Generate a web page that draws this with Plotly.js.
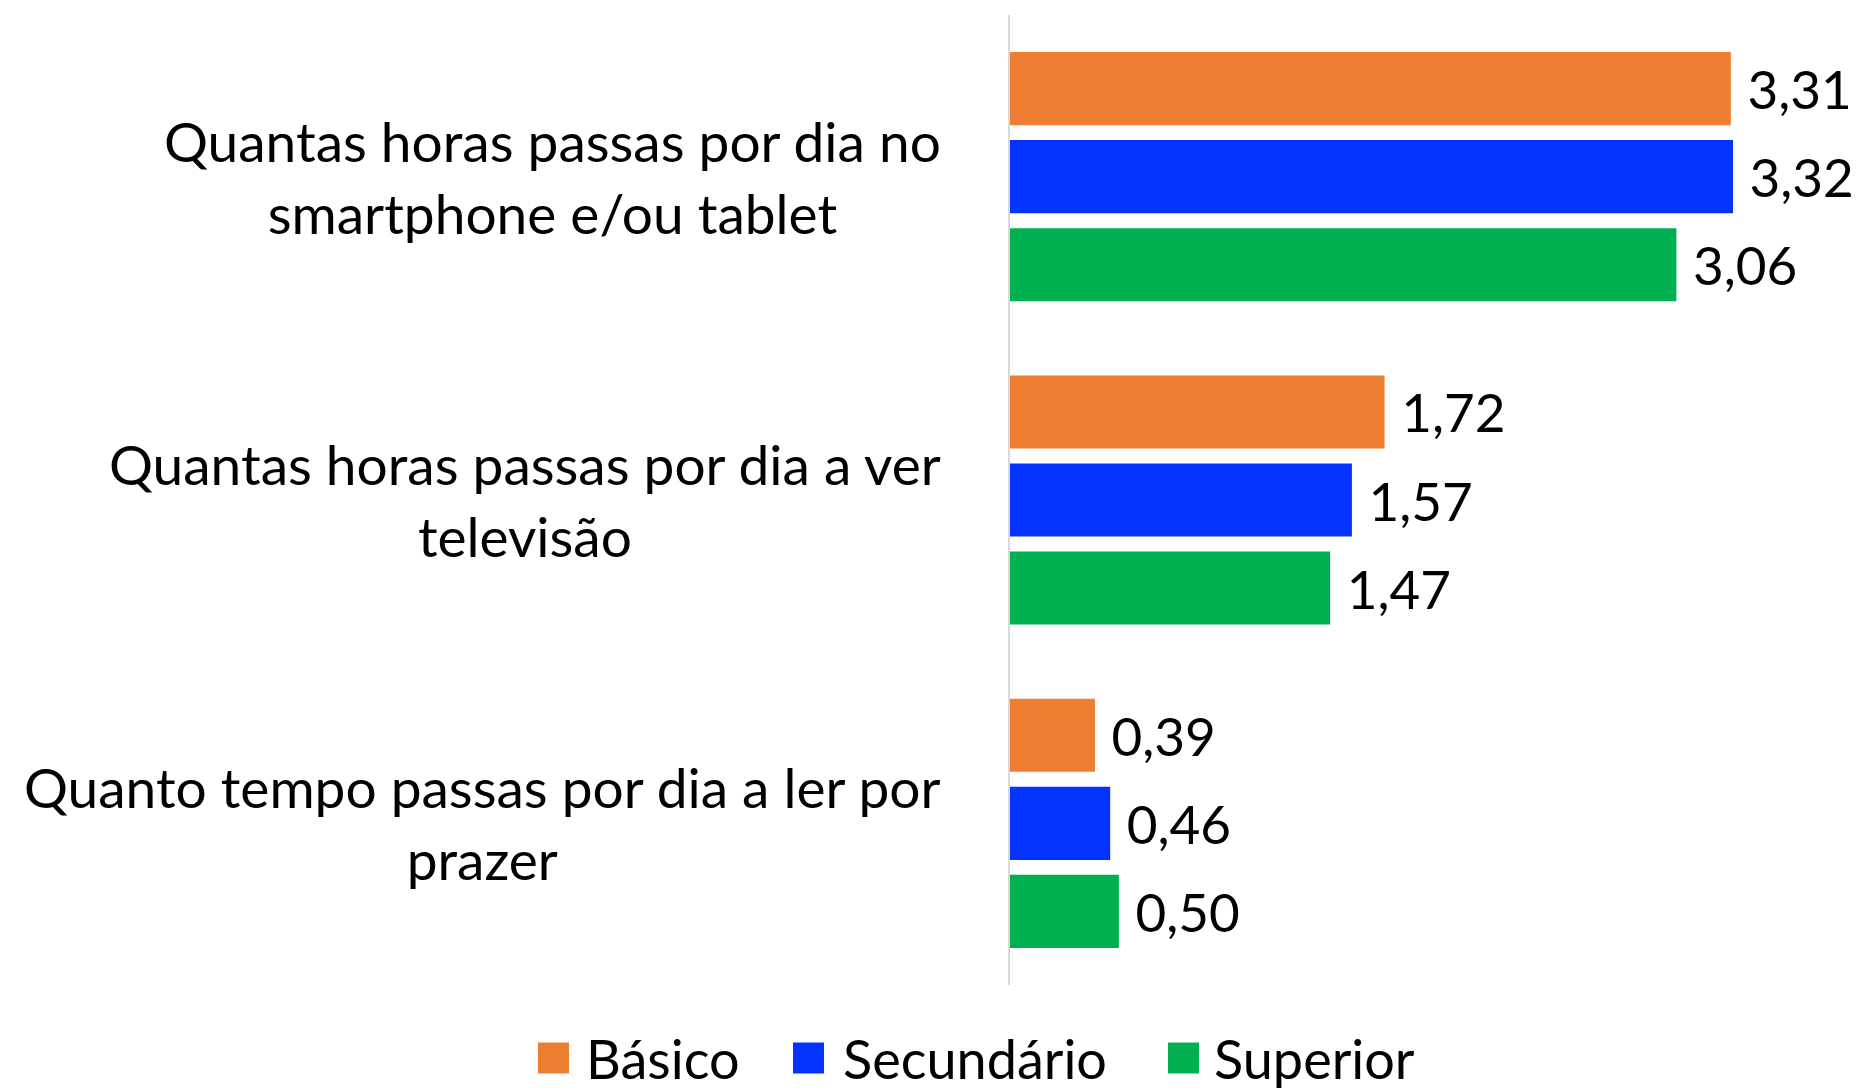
<!DOCTYPE html>
<html>
<head>
<meta charset="utf-8">
<script src="https://cdn.plot.ly/plotly-3.0.1.min.js"></script>
<style>html,body{margin:0;padding:0;background:#fff;}#chart{width:1865px;height:1091px;}</style>
</head>
<body>
<div id="chart"></div>
<script>
var categories = [
  "Quantas horas passas por dia no<br>smartphone e/ou tablet",
  "Quantas horas passas por dia a ver<br>televisão",
  "Quanto tempo passas por dia a ler por<br>prazer"
];
var seriesNames = ["Básico", "Secundário", "Superior"];
var basico = [3.31, 1.72, 0.39];
var secundario = [3.32, 1.57, 0.46];
var superior = [3.06, 1.47, 0.50];
var colors = ["#ED7D31", "#0433FF", "#00B050"];

var W = 1865, H = 1091;
var M = {l: 1010, r: 71, t: 15, b: 106};
var PW = W - M.l - M.r, PH = H - M.t - M.b;
function px2x(px){ return (px - M.l) / PW; }
function px2y(py){ return (H - M.b - py) / PH; }

var FONT = "Lato, 'Open Sans', sans-serif";
var values = [basico, secundario, superior];
var traces = values.map(function(v, i){
  return {
    type: "bar", orientation: "h",
    name: seriesNames[i],
    y: categories, x: v,
    marker: {color: colors[i]},
    texttemplate: "\u00a0%{x:.2f}",
    textposition: "outside",
    constraintext: "none",
    cliponaxis: false,
    textfont: {family: FONT, size: 53, color: "#000"},
    showlegend: false,
    hoverinfo: "x"
  };
});

var annotations = categories.map(function(c){
  return {
    xref: "paper", yref: "y", x: px2x(943), y: c,
    xanchor: "right", yanchor: "middle", align: "center",
    text: c, showarrow: false,
    font: {family: FONT, size: 55, color: "#000"}
  };
});

var shapes = [];
var legSq = [538, 793, 1168];
var legTx = [584, 841, 1212];
var legY = 1058, sq = 31;
seriesNames.forEach(function(n, i){
  shapes.push({type: "rect", xref: "paper", yref: "paper",
    x0: px2x(legSq[i]), x1: px2x(legSq[i] + sq),
    y0: px2y(legY + sq/2), y1: px2y(legY - sq/2),
    fillcolor: colors[i], line: {width: 0}});
  annotations.push({xref: "paper", yref: "paper", x: px2x(legTx[i]), y: px2y(legY),
    xanchor: "left", yanchor: "middle", text: n, showarrow: false,
    font: {family: FONT, size: 54, color: "#000"}});
});

var layout = {
  width: W, height: H,
  margin: M,
  paper_bgcolor: "#fff", plot_bgcolor: "#fff",
  barmode: "group", bargap: 0.183, bargroupgap: 0.17,
  separators: ", ",
  showlegend: false,
  xaxis: {range: [0, 3.6], showgrid: false, zeroline: false, showticklabels: false, showline: false, fixedrange: true},
  yaxis: {autorange: "reversed", showticklabels: false, showgrid: false, showline: true, linecolor: "#d9d9d9", linewidth: 2, ticks: "", fixedrange: true},
  annotations: annotations,
  shapes: shapes,
  font: {family: FONT}
};

Plotly.newPlot("chart", traces, layout, {displayModeBar: false, staticPlot: true});
</script>
</body>
</html>
